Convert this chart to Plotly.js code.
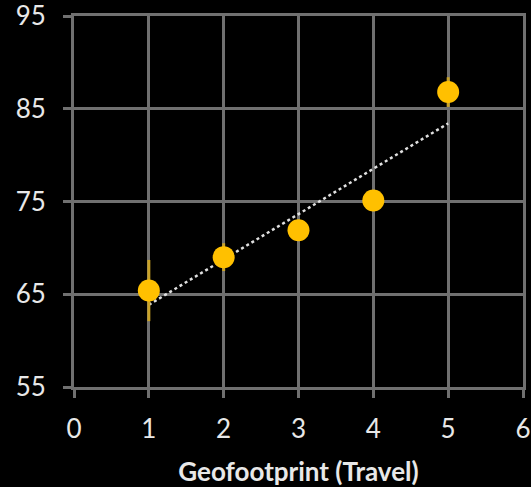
<!DOCTYPE html>
<html>
<head>
<meta charset="utf-8">
<script src="https://cdn.plot.ly/plotly-3.0.1.min.js"></script>
<style>
  html, body { margin: 0; padding: 0; background: #000; }
  #chart { width: 531px; height: 487px; }
</style>
</head>
<body>
<div id="chart"></div>
<script>
// Geofootprint levels and mean scores with their error margins
const footprint = [1, 2, 3, 4, 5];
const score = [65.4, 69.0, 71.9, 75.1, 86.8];
const scoreError = [3.3, 1.5, 0.8, 0.8, 1.6];
const xTicks = [0, 1, 2, 3, 4, 5, 6];
const yTicks = [55, 65, 75, 85, 95];

// Least-squares linear trend through the scores
const n = footprint.length;
const mx = footprint.reduce((a, b) => a + b, 0) / n;
const my = score.reduce((a, b) => a + b, 0) / n;
let sxy = 0, sxx = 0;
for (let i = 0; i < n; i++) {
  sxy += (footprint[i] - mx) * (score[i] - my);
  sxx += (footprint[i] - mx) ** 2;
}
const slope = sxy / sxx;
const intercept = my - slope * mx;
const trendX = [footprint[0], footprint[n - 1]];
const trendY = trendX.map(x => intercept + slope * x);

const gridColor = '#707070';
const font = 'Lato, "Open Sans", sans-serif';

const traces = [
  {
    x: trendX, y: trendY, mode: 'lines', type: 'scatter',
    line: { color: '#e0e0e0', width: 2.5, dash: 'dot' },
    hoverinfo: 'skip'
  },
  {
    x: footprint, y: score, mode: 'markers', type: 'scatter',
    marker: { color: '#FFC000', size: 22 },
    error_y: { type: 'data', array: scoreError, visible: true,
               color: '#C9A227', thickness: 3, width: 0 }
  }
];

const axisCommon = {
  showgrid: true, gridcolor: gridColor, gridwidth: 3,
  showline: true, linecolor: gridColor, linewidth: 3, mirror: true,
  ticks: 'outside', ticklen: 8, tickwidth: 3, tickcolor: gridColor,
  zeroline: false, fixedrange: true, ticklabeloverflow: 'allow',
  tickfont: { family: font, size: 26, color: '#e8e8e8' }
};

const layout = {
  width: 531, height: 487,
  paper_bgcolor: '#000', plot_bgcolor: '#000',
  showlegend: false,
  margin: { l: 74, r: 8, t: 16, b: 100 },
  xaxis: Object.assign({}, axisCommon, {
    range: [0, 6], tickvals: xTicks, ticktext: xTicks.map(String),
    ticklabelstandoff: 9,
    title: { text: 'Geofootprint (Travel)', standoff: 23,
             font: { family: font, size: 26, color: '#e8e8e8', weight: 'bold' } }
  }),
  yaxis: Object.assign({}, axisCommon, {
    range: [55, 95], tickvals: yTicks, ticktext: yTicks.map(String),
    ticklabelstandoff: 12
  })
};

Plotly.newPlot('chart', traces, layout, { displayModeBar: false, staticPlot: true });
</script>
</body>
</html>
